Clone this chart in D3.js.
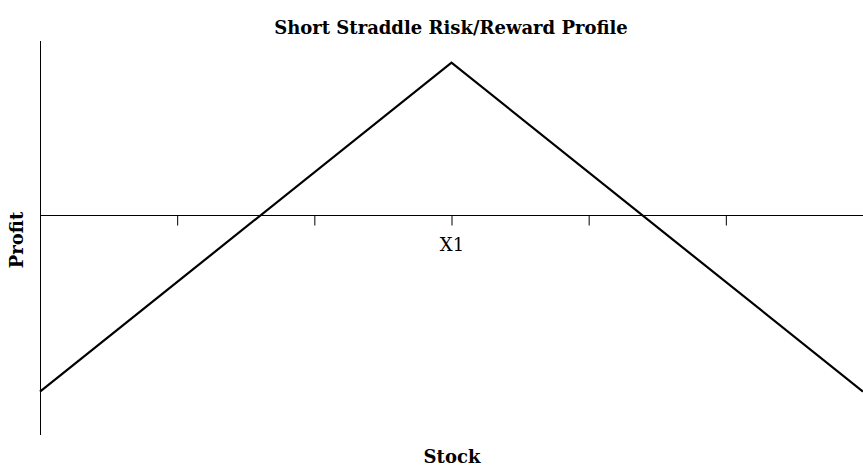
<!DOCTYPE html>
<html><head><meta charset="utf-8">
<script src="https://cdn.jsdelivr.net/npm/d3@7"></script>
<style>body{margin:0;background:#fff}svg{display:block}</style>
</head><body>
<svg id="c" width="863" height="468"></svg>
<script>
const stock = [70, 100, 130];
const profit = [-16.3, 14, -16.3];
const tickValues = [80, 90, 100, 110, 120];
const tickLabels = ["", "", "X1", "", ""];
const title = "Short Straddle Risk/Reward Profile";
const xTitle = "Stock";
const yTitle = "Profit";

const svg = d3.select("#c");
const font = "'DejaVu Serif', serif";
const x = d3.scaleLinear().domain([70, 130]).range([40, 863]);
const y = d3.scaleLinear().domain([-20.3, 16]).range([435, 41]);

// y axis line
svg.append("line").attr("x1", 40.5).attr("x2", 40.5).attr("y1", y(16)).attr("y2", y(-20.3))
  .attr("stroke", "#000").attr("stroke-width", 1);

// x axis at zero
const xAxis = d3.axisBottom(x).tickValues(tickValues).tickSize(10).tickSizeOuter(0)
  .tickFormat((d, i) => tickLabels[i]);
const gx = svg.append("g").attr("transform", `translate(0,${Math.round(y(0)) + 0.5})`).call(xAxis);
gx.select(".domain").attr("d", `M40,0H863`).attr("stroke", "#000");
gx.selectAll(".tick line").attr("stroke", "#000");
gx.selectAll(".tick text").attr("font-family", font).attr("font-size", 18).attr("fill", "#000")
  .attr("y", 35).attr("dy", null);

const line = d3.line().x((d, i) => x(stock[i])).y(d => y(d));
svg.append("path").datum(profit).attr("d", line).attr("fill", "none").attr("stroke", "#000").attr("stroke-width", 2.2);

svg.append("text").attr("x", 451).attr("y", 34).attr("text-anchor", "middle")
  .attr("font-family", font).attr("font-weight", "bold").attr("font-size", 18).text(title);
svg.append("text").attr("x", 452).attr("y", 463).attr("text-anchor", "middle")
  .attr("font-family", font).attr("font-weight", "bold").attr("font-size", 18).text(xTitle);
svg.append("text").attr("transform", "translate(23,240) rotate(-90)").attr("text-anchor", "middle")
  .attr("font-family", font).attr("font-weight", "bold").attr("font-size", 18).text(yTitle);
</script>
</body></html>
